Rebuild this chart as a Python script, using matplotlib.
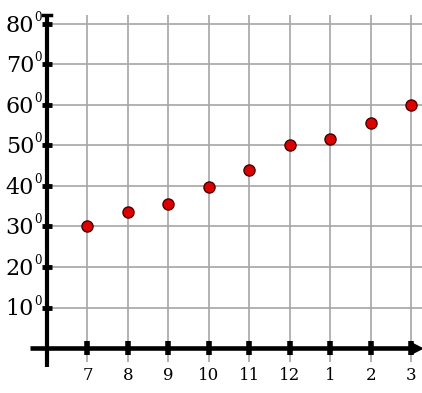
import matplotlib.pyplot as plt

# data
months = ["7", "8", "9", "10", "11", "12", "1", "2", "3"]
temps = [30, 33.5, 35.6, 39.8, 44, 50, 51.7, 55.6, 59.9]
y_ticks = [10, 20, 30, 40, 50, 60, 70, 80]

serif = ["DejaVu Serif"]

fig = plt.figure(figsize=(4.22, 3.93), dpi=100)
ax = fig.add_axes([0, 0, 1, 1])
ax.set_xlim(-1.16, 9.26)
ax.set_ylim(-11.1, 85.9)
ax.axis("off")

xs = list(range(1, len(months) + 1))

# grid
ax.vlines(xs, -3.5, 82.2, color="#a6a6a6", lw=1.2, zorder=1)
ax.hlines(y_ticks, 0, 9.26, color="#a6a6a6", lw=1.2, zorder=1)

# axes lines
ax.plot([-0.42, 9.1], [0, 0], color="black", lw=3.3, zorder=2, solid_capstyle="butt")
ax.plot([0, 0], [-4.6, 82.3], color="black", lw=3.0, zorder=2, solid_capstyle="butt")
ax.plot([9.1], [0], marker=">", color="black", ms=8, zorder=2)
ax.plot([-0.1, 0.1], [82.3, 82.3], color="black", lw=2.5, zorder=2)

# tick marks
ax.plot(xs, [0] * len(xs), ls="none", marker="|", ms=9.5, mew=4, color="black", zorder=3)
ax.plot([0] * len(y_ticks), y_ticks, ls="none", marker="_", ms=7.5, mew=3.5, color="black", zorder=3)

# labels
for x, m in zip(xs, months):
    ax.text(x, -6.8, m, ha="center", va="center", fontsize=12, family=serif)
for v in y_ticks:
    ax.text(-0.32, v - 0.4, str(v), ha="right", va="center", fontsize=16, family=serif)
    ax.text(-0.31, v + 1.6, "0", ha="left", va="center", fontsize=8.5, family=serif)

# points
ax.scatter(xs, temps, s=64, color="#dd0000", edgecolor="#4a0000", linewidth=1, zorder=4)

fig.savefig("out.png", dpi=100)
